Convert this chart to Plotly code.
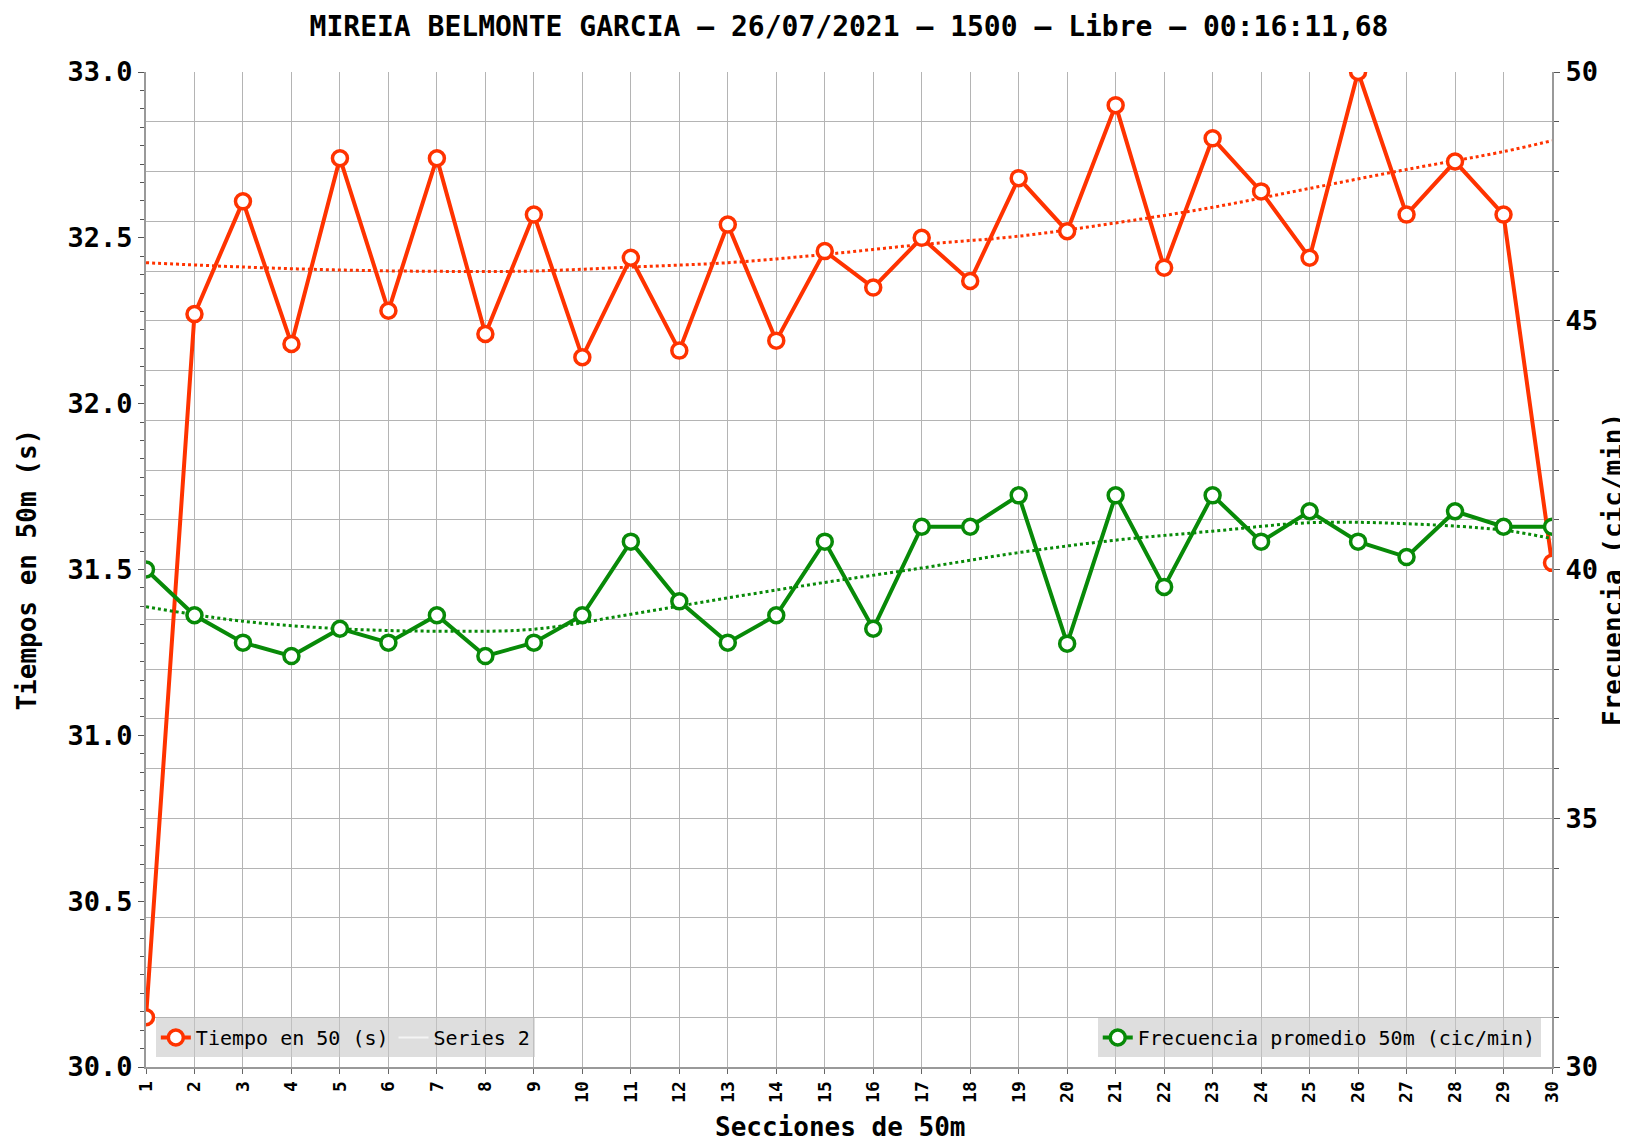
import plotly.graph_objects as go

# ---------------- data ----------------
secciones = list(range(1, 31))
tiempos = [30.15, 32.27, 32.61, 32.18, 32.74, 32.28, 32.74, 32.21, 32.57, 32.14,
           32.44, 32.16, 32.54, 32.19, 32.46, 32.35, 32.50, 32.37, 32.68, 32.52,
           32.90, 32.41, 32.80, 32.64, 32.44, 33.00, 32.57, 32.73, 32.57, 31.52]
frecuencia = [40.00, 39.08, 38.53, 38.26, 38.81, 38.53, 39.08, 38.26, 38.53, 39.08,
              40.56, 39.36, 38.53, 39.08, 40.56, 38.81, 40.86, 40.86, 41.49, 38.51,
              41.49, 39.65, 41.49, 40.56, 41.17, 40.56, 40.25, 41.17, 40.86, 40.86]

# trend lines
trend_x = [1, 3, 5, 7, 9, 11, 13, 15, 17, 19, 21, 23, 25, 27, 29, 30]
trend_tiempos = [32.425, 32.412, 32.403, 32.399, 32.400, 32.412, 32.425, 32.450,
                 32.480, 32.505, 32.545, 32.592, 32.649, 32.706, 32.760, 32.793]
trend_frecuencia = [39.25, 38.96, 38.81, 38.76, 38.80, 39.10, 39.43, 39.74,
                    40.03, 40.34, 40.59, 40.77, 40.94, 40.92, 40.79, 40.62]

titulo = "MIREIA BELMONTE GARCIA – 26/07/2021 – 1500 – Libre – 00:16:11,68"
titulo_x = "Secciones de 50m"
titulo_y1 = "Tiempos en 50m (s)"
titulo_y2 = "Frecuencia (cic/min)"
y1_ticks = [30.0, 30.5, 31.0, 31.5, 32.0, 32.5, 33.0]
y2_ticks = [30, 35, 40, 45, 50]

ORANGE = "#ff3300"
GREEN = "#088a08"
GRID = "#b4b4b4"
FONT = "DejaVu Sans Mono"

fig = go.Figure()

fig.add_trace(go.Scatter(
    x=trend_x, y=trend_tiempos, mode="lines",
    line=dict(color=ORANGE, width=3, dash="dot", shape="spline"),
    showlegend=False, hoverinfo="skip", yaxis="y"))
fig.add_trace(go.Scatter(
    x=secciones, y=tiempos, mode="lines+markers", name="Tiempo en 50 (s)",
    line=dict(color=ORANGE, width=4),
    marker=dict(symbol="circle", size=15, color="white", line=dict(color=ORANGE, width=3.5)),
    legend="legend", yaxis="y"))
fig.add_trace(go.Scatter(
    x=[None], y=[None], mode="lines", name="Series 2",
    line=dict(color="#f4f4f4", width=2), legend="legend", yaxis="y"))

fig.add_trace(go.Scatter(
    x=trend_x, y=trend_frecuencia, mode="lines",
    line=dict(color=GREEN, width=3, dash="dot", shape="spline"),
    showlegend=False, hoverinfo="skip", yaxis="y2"))
fig.add_trace(go.Scatter(
    x=secciones, y=frecuencia, mode="lines+markers", name="Frecuencia promedio 50m (cic/min)",
    line=dict(color=GREEN, width=4),
    marker=dict(symbol="circle", size=15, color="white", line=dict(color=GREEN, width=3.5)),
    legend="legend2", yaxis="y2"))

fig.update_layout(
    width=1628, height=1144,
    margin=dict(l=138, r=84, t=64, b=85, autoexpand=False),
    paper_bgcolor="white", plot_bgcolor="white",
    font=dict(family=FONT, color="black"),
    title=dict(text="<b>" + titulo + "</b>", xref="paper", x=0.5, xanchor="center",
               y=0.984, yanchor="middle",
               font=dict(family=FONT, size=28, color="black")),
    xaxis=dict(
        range=[1, 30], tickmode="array", tickvals=secciones, ticktext=[f"<b>{s}</b>" for s in secciones],
        tickangle=-90, tickfont=dict(family=FONT, size=18, color="black"),
        showgrid=True, gridcolor=GRID, gridwidth=1,
        showline=True, linecolor="#999999", linewidth=2, mirror=False,
        ticks="outside", ticklen=5, tickcolor="#666666", zeroline=False, automargin=False,
    ),
    yaxis=dict(
        range=[30, 33], tickmode="array", tickvals=y1_ticks,
        ticktext=[f"<b>{v:.1f}</b>" for v in y1_ticks],
        tickfont=dict(family=FONT, size=27, color="black"),
        showgrid=False, zeroline=False,
        showline=True, linecolor="#999999", linewidth=2,
        ticks="outside", ticklen=6, tickcolor="#555555", automargin=False,
        minor=dict(dtick=0.5 / 9, tick0=30, ticks="outside", ticklen=4, tickcolor="#555555", showgrid=False),
    ),
    yaxis2=dict(
        range=[30, 50], overlaying="y", side="right", tickmode="array", tickvals=y2_ticks,
        ticktext=[f"<b>{v}</b>" for v in y2_ticks],
        tickfont=dict(family=FONT, size=27, color="black"),
        showgrid=True, gridcolor=GRID, gridwidth=1, zeroline=False,
        showline=True, linecolor="#999999", linewidth=2,
        ticks="outside", ticklen=6, tickcolor="#555555", automargin=False,
        minor=dict(dtick=1, tick0=30, ticks="outside", ticklen=5, tickcolor="#555555",
                   showgrid=True, gridcolor=GRID, gridwidth=1),
    ),
    legend=dict(
        orientation="h", x=0.007, xanchor="left", y=0.01, yanchor="bottom",
        bgcolor="rgba(200,200,200,0.6)", borderwidth=0,
        font=dict(family=FONT, size=20, color="black"), itemwidth=30,
    ),
    legend2=dict(
        orientation="h", x=0.992, xanchor="right", y=0.01, yanchor="bottom",
        bgcolor="rgba(200,200,200,0.6)", borderwidth=0,
        font=dict(family=FONT, size=20, color="black"), itemwidth=30,
    ),
    showlegend=True,
    annotations=[
        dict(text="<b>" + titulo_x + "</b>", xref="paper", yref="paper", x=0.4936, y=-0.0599,
             xanchor="center", yanchor="middle", showarrow=False, font=dict(family=FONT, size=26)),
        dict(text="<b>" + titulo_y1 + "</b>", xref="paper", yref="paper", x=-0.0853, y=0.5,
             xanchor="center", yanchor="middle", textangle=-90, showarrow=False,
             font=dict(family=FONT, size=26)),
        dict(text="<b>" + titulo_y2 + "</b>", xref="paper", yref="paper", x=1.043, y=0.5,
             xanchor="center", yanchor="middle", textangle=-90, showarrow=False,
             font=dict(family=FONT, size=26)),
    ],
)

fig.write_html("out.html")
